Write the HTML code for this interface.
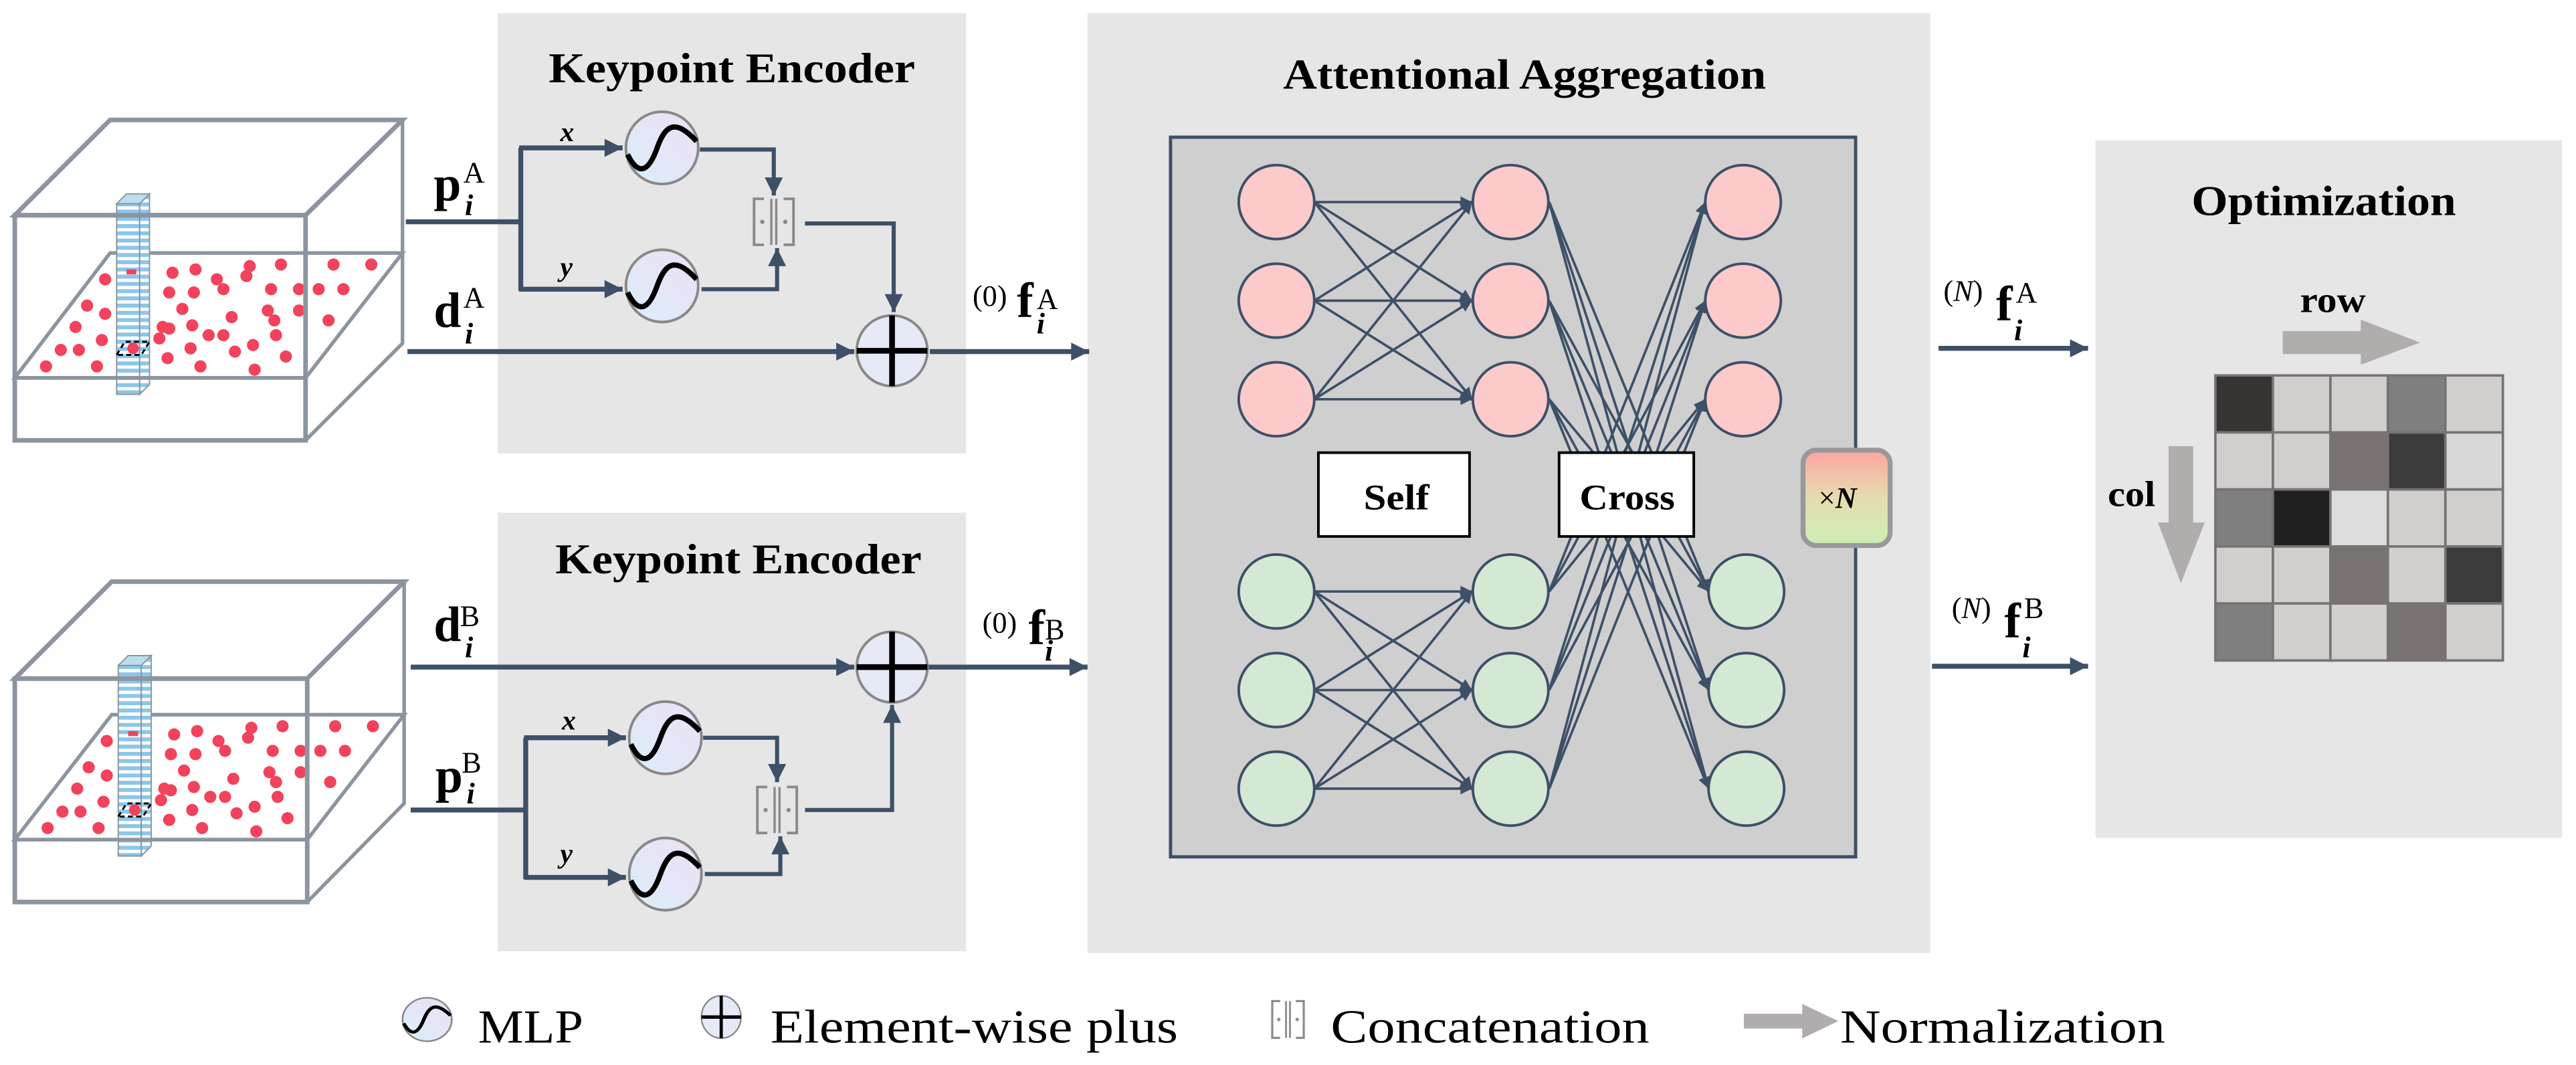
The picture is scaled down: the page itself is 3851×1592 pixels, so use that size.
<!DOCTYPE html>
<html><head><meta charset="utf-8"><style>html,body{margin:0;padding:0;background:#fff}svg{display:block}</style></head><body>
<svg width="3851" height="1592" viewBox="0 0 1568 648.2" preserveAspectRatio="none" xmlns="http://www.w3.org/2000/svg" font-family="'Liberation Serif', serif">
<defs>
<marker id="ar" viewBox="0 0 10 10" refX="10" refY="5" markerWidth="12" markerHeight="11" markerUnits="userSpaceOnUse" orient="auto"><path d="M0,0 L10,5 L0,10 z" fill="#3d5068"/></marker>
<marker id="as" viewBox="0 0 10 10" refX="10" refY="5" markerWidth="8" markerHeight="7" markerUnits="userSpaceOnUse" orient="auto"><path d="M0,0 L10,5 L0,10 z" fill="#3d5068"/></marker>
<linearGradient id="mlp" x1="0" y1="1" x2="1" y2="0"><stop offset="0" stop-color="#d8effb"/><stop offset="1" stop-color="#f0def4"/></linearGradient>
<linearGradient id="xn" x1="0" y1="0" x2="0" y2="1"><stop offset="0" stop-color="#fca5a0"/><stop offset="0.5" stop-color="#e6dcb0"/><stop offset="1" stop-color="#cdeeb4"/></linearGradient>
<pattern id="stripe" width="14" height="4.4" patternUnits="userSpaceOnUse"><rect width="14" height="4.4" fill="#fff"/><rect width="14" height="2.4" fill="#8cc6ea"/></pattern>
<g id="mlpicon"><ellipse cx="0" cy="0" rx="22" ry="22" fill="url(#mlp)" stroke="#888" stroke-width="1.6"/><path d="M-21,4 C-14,18 -8,14 -3,0 C2,-14 8,-18 21,-4" fill="none" stroke="#000" stroke-width="3.2"/></g>
<g id="concat"><path d="M-6,-14 L-12,-14 L-12,14 L-6,14 M6,-14 L12,-14 L12,14 L6,14" fill="none" stroke="#8a8a8a" stroke-width="1.6"/><path d="M-1.5,-14 V14 M1.5,-14 V14" stroke="#8a8a8a" stroke-width="1.4"/><circle cx="-7" cy="0" r="1.3" fill="#8a8a8a"/><circle cx="7" cy="0" r="1.3" fill="#8a8a8a"/></g>
<g id="plus"><ellipse cx="0" cy="0" rx="21.5" ry="21.5" fill="#e6e9f6" stroke="#888" stroke-width="1.6"/><path d="M-21.5,0 H21.5 M0,-21.5 V21.5" stroke="#000" stroke-width="3.5"/></g>
<g id="dots" fill="#f2425c">
<circle cx="64" cy="170" r="3.7"/><circle cx="105" cy="166" r="3.7"/><circle cx="119" cy="164" r="3.7"/><circle cx="132" cy="170" r="3.7"/><circle cx="136" cy="176" r="3.7"/><circle cx="152" cy="162" r="3.7"/><circle cx="150" cy="168" r="3.7"/><circle cx="171" cy="161" r="3.7"/><circle cx="203" cy="161" r="3.7"/><circle cx="226" cy="161" r="3.7"/><circle cx="103" cy="178" r="3.7"/><circle cx="118" cy="178" r="3.7"/><circle cx="165" cy="176" r="3.7"/><circle cx="182" cy="176" r="3.7"/><circle cx="194" cy="176" r="3.7"/><circle cx="209" cy="176" r="3.7"/><circle cx="53" cy="186" r="3.7"/><circle cx="64" cy="191" r="3.7"/><circle cx="111" cy="188" r="3.7"/><circle cx="141" cy="193" r="3.7"/><circle cx="163" cy="189" r="3.7"/><circle cx="167" cy="195" r="3.7"/><circle cx="182" cy="189" r="3.7"/><circle cx="200" cy="195" r="3.7"/><circle cx="46" cy="199" r="3.7"/><circle cx="99" cy="199" r="3.7"/><circle cx="103" cy="200" r="3.7"/><circle cx="117" cy="198" r="3.7"/><circle cx="127" cy="204" r="3.7"/><circle cx="136" cy="204" r="3.7"/><circle cx="168" cy="204" r="3.7"/><circle cx="62" cy="207" r="3.7"/><circle cx="97" cy="206" r="3.7"/><circle cx="37" cy="213" r="3.7"/><circle cx="48" cy="213" r="3.7"/><circle cx="116" cy="212" r="3.7"/><circle cx="143" cy="214" r="3.7"/><circle cx="154" cy="210" r="3.7"/><circle cx="28" cy="223" r="3.7"/><circle cx="59" cy="223" r="3.7"/><circle cx="102" cy="218" r="3.7"/><circle cx="122" cy="223" r="3.7"/><circle cx="174" cy="217" r="3.7"/><circle cx="155" cy="225" r="3.7"/>
</g>
</defs>

<rect x="303" y="8" width="285" height="268" fill="#e6e6e6"/>
<rect x="303" y="312" width="285" height="267" fill="#e6e6e6"/>
<rect x="662" y="8" width="513" height="572" fill="#e6e6e6"/>
<rect x="1275.5" y="85.5" width="284" height="424.5" fill="#e6e6e6"/>

<g fill="none" stroke="#8c959f" stroke-width="2.2">
<path d="M9,131 L67,73 L245,73 L186,131 Z" stroke-width="2.8"/>
<path d="M245,73 V209 L186,268"/>
<path d="M9,230 L67,154 L245,154 L186,230 Z"/>
</g>
<use href="#dots"/>
<rect x="71" y="124" width="14" height="116" fill="url(#stripe)" stroke="#8c959f" stroke-width="0.8"/>
<path d="M85,124 L91,118 V234 L85,240 Z" fill="url(#stripe)" stroke="#8c959f" stroke-width="0.8"/>
<path d="M71,124 L77,118 L91,118 L85,124 Z" fill="#bcdcf0" stroke="#8c959f" stroke-width="0.8"/>
<rect x="77" y="164" width="6" height="3" fill="#f2425c"/>
<path d="M71,216 L76,208 L91,208 L86,216 Z" fill="none" stroke="#000" stroke-width="1.2" stroke-dasharray="3,2"/>
<circle cx="81" cy="212" r="3.5" fill="#f2425c"/>
<rect x="9" y="131" width="177" height="137" fill="none" stroke="#8c959f" stroke-width="2.8"/>
<path d="M9,230 H186" stroke="#8c959f" stroke-width="2.2"/>

<g fill="none" stroke="#8c959f" stroke-width="2.2">
<path d="M9,413 L68,354 L246,354 L187,413 Z" stroke-width="2.8"/>
<path d="M246,354 V489 L187,549"/>
<path d="M9,511 L68,435 L246,435 L187,511 Z"/>
</g>
<use href="#dots" transform="translate(1,281)"/>
<rect x="72" y="405" width="14" height="116" fill="url(#stripe)" stroke="#8c959f" stroke-width="0.8"/>
<path d="M86,405 L92,399 V515 L86,521 Z" fill="url(#stripe)" stroke="#8c959f" stroke-width="0.8"/>
<path d="M72,405 L78,399 L92,399 L86,405 Z" fill="#bcdcf0" stroke="#8c959f" stroke-width="0.8"/>
<rect x="78" y="445" width="6" height="3" fill="#f2425c"/>
<path d="M72,497 L77,489 L92,489 L87,497 Z" fill="none" stroke="#000" stroke-width="1.2" stroke-dasharray="3,2"/>
<circle cx="82" cy="493" r="3.5" fill="#f2425c"/>
<rect x="9" y="413" width="178" height="136" fill="none" stroke="#8c959f" stroke-width="2.8"/>
<path d="M9,511 H187" stroke="#8c959f" stroke-width="2.2"/>

<g fill="none" stroke="#3d5068" stroke-width="3">
<path d="M247,135 H317"/>
<path d="M317,90 V177"/>
<path d="M316,90 H379" marker-end="url(#ar)"/>
<path d="M316,176 H379" marker-end="url(#ar)"/>
<path d="M426,91 H471 V119" stroke-width="2.5" marker-end="url(#ar)"/>
<path d="M427,176 H473 V151" stroke-width="2.5" marker-end="url(#ar)"/>
<path d="M490,136 H544 V190" stroke-width="2.5" marker-end="url(#ar)"/>
<path d="M248,214 H520" marker-end="url(#ar)"/>
<path d="M566,214 H663" marker-end="url(#ar)"/>
</g>
<use href="#mlpicon" x="403" y="90"/>
<use href="#mlpicon" x="403" y="174"/>
<use href="#concat" x="471" y="135"/>
<use href="#plus" x="543" y="213.5"/>

<g fill="none" stroke="#3d5068" stroke-width="3">
<path d="M250,406 H520" marker-end="url(#ar)"/>
<path d="M565,406 H662" marker-end="url(#ar)"/>
<path d="M250,493 H320"/>
<path d="M320,449 V535"/>
<path d="M319,449 H381" marker-end="url(#ar)"/>
<path d="M319,534 H381" marker-end="url(#ar)"/>
<path d="M428,449 H473 V476" stroke-width="2.5" marker-end="url(#ar)"/>
<path d="M429,532 H475 V509" stroke-width="2.5" marker-end="url(#ar)"/>
<path d="M490,493 H543 V429" stroke-width="2.5" marker-end="url(#ar)"/>
</g>
<use href="#mlpicon" x="405" y="449"/>
<use href="#mlpicon" x="405" y="532"/>
<use href="#concat" x="473" y="493"/>
<use href="#plus" x="543" y="406"/>

<text x="334" y="50" font-size="26" font-weight="bold" textLength="223" lengthAdjust="spacingAndGlyphs">Keypoint Encoder</text>
<text x="338" y="349" font-size="26" font-weight="bold" textLength="223" lengthAdjust="spacingAndGlyphs">Keypoint Encoder</text>

<g font-weight="bold">
<text x="264" y="122" font-size="30">p</text>
<text x="264" y="199" font-size="30">d</text>
<text x="264" y="390" font-size="30">d</text>
<text x="265" y="482" font-size="30">p</text>
<text x="619" y="193" font-size="30">f</text>
<text x="626" y="392" font-size="30">f</text>
<text x="1215" y="195" font-size="30">f</text>
<text x="1220" y="388" font-size="30">f</text>
</g>
<g font-size="18">
<text x="282" y="111">A</text><text x="282" y="187">A</text><text x="280" y="381">B</text><text x="281" y="470">B</text>
<text x="631" y="188">A</text><text x="636" y="389">B</text>
<text x="1227" y="184">A</text><text x="1232" y="376">B</text>
<text x="592" y="186">(0)</text><text x="598" y="385">(0)</text>
<text x="1183" y="183">(<tspan font-style="italic">N</tspan>)</text>
<text x="1188" y="376">(<tspan font-style="italic">N</tspan>)</text>
</g>
<g font-size="18" font-style="italic" font-weight="bold">
<text x="283" y="131">i</text><text x="283" y="209">i</text><text x="283" y="400">i</text><text x="284" y="489">i</text>
<text x="631" y="203">i</text><text x="636" y="402">i</text>
<text x="1226" y="207">i</text><text x="1231" y="400">i</text>
</g>
<g font-size="17" font-style="italic" font-weight="bold">
<text x="341" y="86">x</text><text x="341" y="168">y</text>
<text x="342" y="444">x</text><text x="341" y="525">y</text>
</g>

<text x="781" y="54" font-size="26" font-weight="bold" textLength="294" lengthAdjust="spacingAndGlyphs">Attentional Aggregation</text>
<rect x="712.5" y="83.5" width="417" height="438" fill="#d0cfcf" stroke="#3d5068" stroke-width="2"/>
<g stroke="#3d5068" stroke-width="1.5" marker-end="url(#as)">
<line x1="800" y1="123" x2="896" y2="123"/><line x1="800" y1="123" x2="896" y2="183"/><line x1="800" y1="123" x2="896" y2="243"/>
<line x1="800" y1="183" x2="896" y2="123"/><line x1="800" y1="183" x2="896" y2="183"/><line x1="800" y1="183" x2="896" y2="243"/>
<line x1="800" y1="243" x2="896" y2="123"/><line x1="800" y1="243" x2="896" y2="183"/><line x1="800" y1="243" x2="896" y2="243"/>
<line x1="800" y1="360" x2="896" y2="360"/><line x1="800" y1="360" x2="896" y2="420"/><line x1="800" y1="360" x2="896" y2="480"/>
<line x1="800" y1="420" x2="896" y2="360"/><line x1="800" y1="420" x2="896" y2="420"/><line x1="800" y1="420" x2="896" y2="480"/>
<line x1="800" y1="480" x2="896" y2="360"/><line x1="800" y1="480" x2="896" y2="420"/><line x1="800" y1="480" x2="896" y2="480"/>
<line x1="943" y1="123" x2="1040" y2="360"/><line x1="943" y1="123" x2="1040" y2="420"/><line x1="943" y1="123" x2="1040" y2="480"/>
<line x1="943" y1="183" x2="1040" y2="360"/><line x1="943" y1="183" x2="1040" y2="420"/><line x1="943" y1="183" x2="1040" y2="480"/>
<line x1="943" y1="243" x2="1040" y2="360"/><line x1="943" y1="243" x2="1040" y2="420"/><line x1="943" y1="243" x2="1040" y2="480"/>
<line x1="943" y1="360" x2="1038" y2="123"/><line x1="943" y1="360" x2="1038" y2="183"/><line x1="943" y1="360" x2="1038" y2="243"/>
<line x1="943" y1="420" x2="1038" y2="123"/><line x1="943" y1="420" x2="1038" y2="183"/><line x1="943" y1="420" x2="1038" y2="243"/>
<line x1="943" y1="480" x2="1038" y2="123"/><line x1="943" y1="480" x2="1038" y2="183"/><line x1="943" y1="480" x2="1038" y2="243"/>
</g>
<g stroke="#3d5068" stroke-width="1.6">
<g fill="#fccaca">
<ellipse cx="777" cy="123" rx="23" ry="22.5"/><ellipse cx="777" cy="183" rx="23" ry="22.5"/><ellipse cx="777" cy="243" rx="23" ry="22.5"/>
<ellipse cx="919.5" cy="123" rx="23" ry="22.5"/><ellipse cx="919.5" cy="183" rx="23" ry="22.5"/><ellipse cx="919.5" cy="243" rx="23" ry="22.5"/>
<ellipse cx="1061" cy="123" rx="23" ry="22.5"/><ellipse cx="1061" cy="183" rx="23" ry="22.5"/><ellipse cx="1061" cy="243" rx="23" ry="22.5"/>
</g>
<g fill="#d4e8d4">
<ellipse cx="777" cy="360" rx="23" ry="22.5"/><ellipse cx="777" cy="420" rx="23" ry="22.5"/><ellipse cx="777" cy="480" rx="23" ry="22.5"/>
<ellipse cx="919.5" cy="360" rx="23" ry="22.5"/><ellipse cx="919.5" cy="420" rx="23" ry="22.5"/><ellipse cx="919.5" cy="480" rx="23" ry="22.5"/>
<ellipse cx="1063" cy="360" rx="23" ry="22.5"/><ellipse cx="1063" cy="420" rx="23" ry="22.5"/><ellipse cx="1063" cy="480" rx="23" ry="22.5"/>
</g>
</g>
<rect x="802.5" y="275.5" width="92" height="51" fill="#fff" stroke="#000" stroke-width="1.6"/>
<text x="830" y="310" font-size="22" font-weight="bold" textLength="40" lengthAdjust="spacingAndGlyphs">Self</text>
<rect x="949" y="275.5" width="82" height="51" fill="#fff" stroke="#000" stroke-width="1.6"/>
<text x="961.5" y="310" font-size="22" font-weight="bold" textLength="58" lengthAdjust="spacingAndGlyphs">Cross</text>
<rect x="1097.5" y="274" width="53" height="58" rx="8" fill="url(#xn)" stroke="#999" stroke-width="3"/>
<text x="1107" y="309" font-size="18">×<tspan font-style="italic" font-weight="bold">N</tspan></text>

<g stroke="#3d5068" stroke-width="3" fill="none">
<path d="M1180,212 H1271" marker-end="url(#ar)"/>
<path d="M1176,405.5 H1271" marker-end="url(#ar)"/>
</g>

<text x="1334" y="131" font-size="26" font-weight="bold" textLength="161" lengthAdjust="spacingAndGlyphs">Optimization</text>
<text x="1400" y="190" font-size="22" font-weight="bold" textLength="40" lengthAdjust="spacingAndGlyphs">row</text>
<path d="M1389.5,201.5 H1437 V194.5 L1473,208.5 L1437,222 V215.5 H1389.5 Z" fill="#b0adac"/>
<text x="1283" y="308" font-size="22" font-weight="bold" textLength="29" lengthAdjust="spacingAndGlyphs">col</text>
<path d="M1320,271.5 H1335 V318 H1342 L1327.5,355 L1313.5,318 H1320 Z" fill="#b0adac"/>
<g stroke="#787372" stroke-width="1.5">
<rect x="1348.5" y="228.5" width="35" height="34.7" fill="#383433"/><rect x="1383.5" y="228.5" width="35" height="34.7" fill="#d0cfcd"/><rect x="1418.5" y="228.5" width="35" height="34.7" fill="#d0cfcd"/><rect x="1453.5" y="228.5" width="35" height="34.7" fill="#807f7f"/><rect x="1488.5" y="228.5" width="35" height="34.7" fill="#d0cfcd"/>
<rect x="1348.5" y="263.2" width="35" height="34.7" fill="#d0cfcd"/><rect x="1383.5" y="263.2" width="35" height="34.7" fill="#d0cfcd"/><rect x="1418.5" y="263.2" width="35" height="34.7" fill="#787372"/><rect x="1453.5" y="263.2" width="35" height="34.7" fill="#3b3b3b"/><rect x="1488.5" y="263.2" width="35" height="34.7" fill="#d8d8d8"/>
<rect x="1348.5" y="297.9" width="35" height="34.7" fill="#807f7f"/><rect x="1383.5" y="297.9" width="35" height="34.7" fill="#202020"/><rect x="1418.5" y="297.9" width="35" height="34.7" fill="#dcdcdc"/><rect x="1453.5" y="297.9" width="35" height="34.7" fill="#d0cfcd"/><rect x="1488.5" y="297.9" width="35" height="34.7" fill="#d0cfcd"/>
<rect x="1348.5" y="332.6" width="35" height="34.7" fill="#d0cfcd"/><rect x="1383.5" y="332.6" width="35" height="34.7" fill="#d0cfcd"/><rect x="1418.5" y="332.6" width="35" height="34.7" fill="#787372"/><rect x="1453.5" y="332.6" width="35" height="34.7" fill="#d0cfcd"/><rect x="1488.5" y="332.6" width="35" height="34.7" fill="#3b3b3b"/>
<rect x="1348.5" y="367.3" width="35" height="34.7" fill="#807f7f"/><rect x="1383.5" y="367.3" width="35" height="34.7" fill="#d0cfcd"/><rect x="1418.5" y="367.3" width="35" height="34.7" fill="#d0cfcd"/><rect x="1453.5" y="367.3" width="35" height="34.7" fill="#787372"/><rect x="1488.5" y="367.3" width="35" height="34.7" fill="#d0cfcd"/>
</g>

<g transform="translate(260,620.5) scale(0.68,0.6)"><use href="#mlpicon"/></g>
<text x="291" y="634.5" font-size="29" textLength="64" lengthAdjust="spacingAndGlyphs">MLP</text>
<g transform="translate(439,619) scale(0.56,0.6)"><use href="#plus"/></g>
<text x="469" y="634.5" font-size="29" textLength="248" lengthAdjust="spacingAndGlyphs">Element-wise plus</text>
<g transform="translate(784,620.5) scale(0.8)"><use href="#concat"/></g>
<text x="810" y="634.5" font-size="29" textLength="194" lengthAdjust="spacingAndGlyphs">Concatenation</text>
<path d="M1061.5,617 H1097 V611 L1119,621.5 L1097,632 V626 H1061.5 Z" fill="#b0adac"/>
<text x="1120" y="634.5" font-size="29" textLength="198" lengthAdjust="spacingAndGlyphs">Normalization</text>
</svg>
</body></html>
